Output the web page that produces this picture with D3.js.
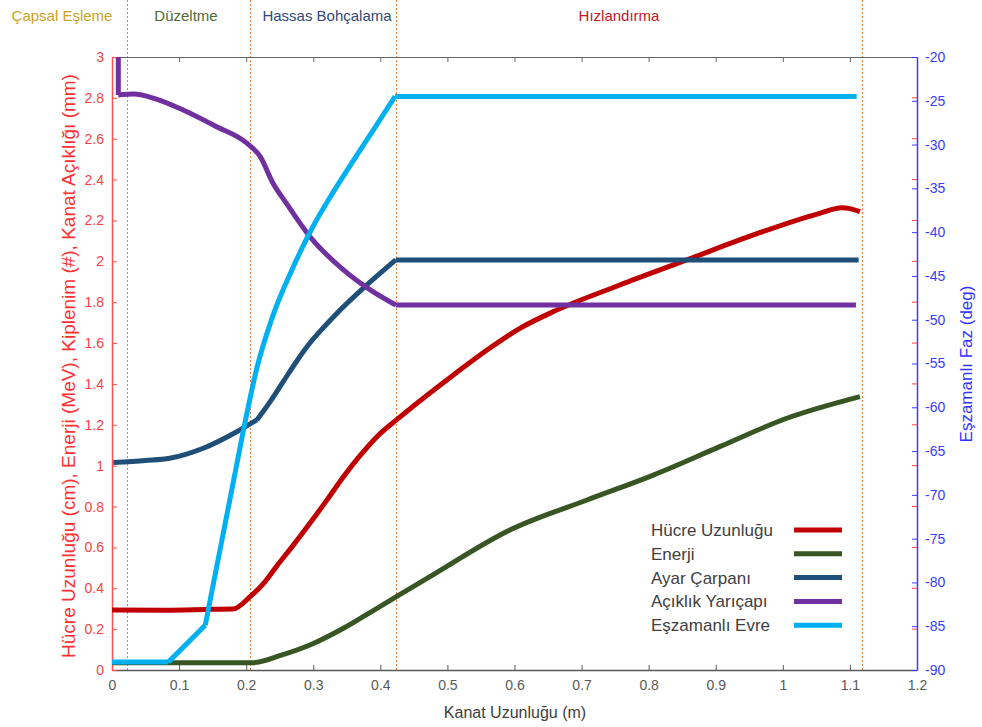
<!DOCTYPE html>
<html>
<head>
<meta charset="utf-8">
<script src="https://cdn.jsdelivr.net/npm/d3@7"></script>
<style>
  body { margin: 0; background: #fff; }
  svg { font-family: "Liberation Sans", Arial, sans-serif; }
</style>
</head>
<body>
<div id="chart"></div>
<script>
// phase boundaries (m) and names
var phaseBounds = [0.022, 0.205, 0.423, 1.118];
var phaseNames = ["Çapsal Eşleme", "Düzeltme", "Hassas Bohçalama", "Hızlandırma"];

// tick labels
var xTicks = [0, 0.1, 0.2, 0.3, 0.4, 0.5, 0.6, 0.7, 0.8, 0.9, 1, 1.1, 1.2];
var leftTicks = [0, 0.2, 0.4, 0.6, 0.8, 1, 1.2, 1.4, 1.6, 1.8, 2, 2.2, 2.4, 2.6, 2.8, 3];
var rightTicks = [-90, -85, -80, -75, -70, -65, -60, -55, -50, -45, -40, -35, -30, -25, -20];

// series: [x (m), value]
var hucre = [[0, 0.294], [0.08, 0.293], [0.15, 0.297], [0.18, 0.298], [0.206, 0.359], [0.226, 0.424],
  [0.245, 0.506], [0.27, 0.61], [0.295, 0.718], [0.32, 0.83], [0.345, 0.946], [0.37, 1.05], [0.395, 1.142], [0.424, 1.224],
  [0.474, 1.356], [0.509, 1.444], [0.559, 1.566], [0.608, 1.672], [0.658, 1.754], [0.757, 1.884], [0.857, 2.007],
  [0.956, 2.129], [1.055, 2.235], [1.088, 2.262], [1.1, 2.258], [1.115, 2.243]];
var enerji = [[0, 0.036], [0.1, 0.036], [0.21, 0.036], [0.25, 0.07], [0.295, 0.122], [0.345, 0.204], [0.395, 0.302],
  [0.424, 0.359], [0.474, 0.457], [0.593, 0.685], [0.708, 0.832], [0.807, 0.954], [0.906, 1.093], [1.006, 1.232], [1.115, 1.338]];
var ayar = [[0.002, 1.015], [0.05, 1.025], [0.086, 1.036], [0.136, 1.085], [0.186, 1.166], [0.216, 1.224],
  [0.235, 1.31], [0.255, 1.41], [0.275, 1.51], [0.295, 1.6], [0.315, 1.675], [0.335, 1.745], [0.375, 1.87],
  [0.423, 2.007], [1.113, 2.007]];
var aciklik = [[0.0094, 3.0], [0.0094, 2.814], [0.032, 2.819], [0.067, 2.793], [0.106, 2.741], [0.156, 2.659],
  [0.201, 2.578], [0.221, 2.512], [0.24, 2.382], [0.26, 2.284], [0.295, 2.121], [0.345, 1.958], [0.385, 1.86],
  [0.423, 1.786], [1.109, 1.786]];
var evre = [[0, -89.1], [0.084, -89.1], [0.139, -84.9], [0.196, -62.6], [0.216, -55.5], [0.24, -49.5],
  [0.27, -44.0], [0.3, -39.3], [0.33, -35.4], [0.36, -31.8], [0.39, -28.3], [0.422, -24.5], [1.11, -24.5]];

var seriesNames = ["Hücre Uzunluğu", "Enerji", "Ayar Çarpanı", "Açıklık Yarıçapı", "Eşzamanlı Evre"];
var seriesColors = ["#c00000", "#375623", "#1f4e79", "#7030a0", "#00b0f0"];

var width = 982, height = 727;
var x = d3.scaleLinear().domain([0, 1.2]).range([112, 917]);
var yL = d3.scaleLinear().domain([0, 3]).range([670, 57]);
var yR = d3.scaleLinear().domain([-90, -20]).range([670, 57]);

var svg = d3.select("#chart").append("svg")
    .attr("width", width)
    .attr("height", height);

svg.append("rect").attr("width", width).attr("height", height).attr("fill", "#fff");

// phase boundaries
svg.selectAll(".phase")
  .data(phaseBounds)
  .enter().append("line")
    .attr("x1", function(d) { return Math.round(x(d)) + 0.5; })
    .attr("x2", function(d) { return Math.round(x(d)) + 0.5; })
    .attr("y1", 0)
    .attr("y2", 670)
    .attr("stroke", "#e8803a")
    .attr("stroke-width", 1)
    .attr("stroke-dasharray", "2,2");

// phase labels
var phaseColors = ["#c9a227", "#4f6b2e", "#2f4a78", "#c8141e"];
var phaseX = [62, 186, 327, 619];
svg.selectAll(".phaseLabel")
  .data(phaseNames)
  .enter().append("text")
    .attr("x", function(d, i) { return phaseX[i]; })
    .attr("y", 21)
    .attr("text-anchor", "middle")
    .attr("font-size", "15px")
    .attr("fill", function(d, i) { return phaseColors[i]; })
    .text(function(d) { return d; });

// top frame
svg.append("g")
    .attr("transform", "translate(0,57)")
    .call(d3.axisTop(x).tickValues(xTicks).tickSizeInner(-5).tickSizeOuter(0).tickFormat(""))
    .call(function(g) {
      g.select(".domain").attr("stroke", "#666");
      g.selectAll(".tick line").attr("stroke", "#666");
    });

// bottom axis
svg.append("g")
    .attr("transform", "translate(0,670)")
    .call(d3.axisBottom(x).tickValues(xTicks).tickSizeInner(-5).tickSizeOuter(0).tickPadding(10)
      .tickFormat(function(d) { return String(+d.toFixed(1)); }))
    .call(function(g) {
      g.select(".domain").attr("stroke", "#595959").attr("stroke-width", 1.5);
      g.selectAll(".tick line").attr("stroke", "#595959");
      g.selectAll("text").attr("fill", "#595959").attr("font-size", "14px")
        .attr("font-family", "Liberation Sans, Arial, sans-serif");
    });

// left axis
svg.append("g")
    .attr("transform", "translate(112,0)")
    .call(d3.axisLeft(yL).tickValues(leftTicks).tickSizeInner(-5).tickSizeOuter(0).tickPadding(8)
      .tickFormat(function(d) { return String(+d.toFixed(1)); }))
    .call(function(g) {
      g.select(".domain").attr("stroke", "#ff5050").attr("stroke-width", 1.5);
      g.selectAll(".tick line").attr("stroke", "#ff5050");
      g.selectAll("text").attr("fill", "#ff4040").attr("font-size", "14px")
        .attr("font-family", "Liberation Sans, Arial, sans-serif");
    });

// right axis
svg.append("g")
    .attr("transform", "translate(917,0)")
    .call(d3.axisRight(yR).tickValues(rightTicks).tickSizeInner(-5).tickSizeOuter(0).tickPadding(8)
      .tickFormat(function(d) { return String(d); }))
    .call(function(g) {
      g.select(".domain").attr("stroke", "#3b3bff").attr("stroke-width", 1.5);
      g.selectAll(".tick line").attr("stroke", "#3b3bff");
      g.selectAll("text").attr("fill", "#3b3bff").attr("font-size", "14px")
        .attr("font-family", "Liberation Sans, Arial, sans-serif");
    });

// mirrored left ticks on the right side
svg.selectAll(".mirror")
  .data(leftTicks.slice(1, -1))
  .enter().append("line")
    .attr("x1", 912).attr("x2", 917)
    .attr("y1", function(d) { return yL(d); })
    .attr("y2", function(d) { return yL(d); })
    .attr("stroke", "#ff4040");

// axis titles
svg.append("text")
    .attr("transform", "translate(75,366) rotate(-90)")
    .attr("text-anchor", "middle")
    .attr("font-size", "19px")
    .attr("fill", "#ff3030")
    .text("Hücre Uzunluğu (cm), Enerji (MeV), Kiplenim (#), Kanat Açıklığı (mm)");

svg.append("text")
    .attr("transform", "translate(972,364) rotate(-90)")
    .attr("text-anchor", "middle")
    .attr("font-size", "17px")
    .attr("fill", "#3333ff")
    .text("Eşzamanlı Faz (deg)");

svg.append("text")
    .attr("x", 515)
    .attr("y", 718)
    .attr("text-anchor", "middle")
    .attr("font-size", "16px")
    .attr("fill", "#404040")
    .text("Kanat Uzunluğu (m)");

// lines: smooth (monotone) pieces, split at the sharp corners
var smoothL = d3.line().curve(d3.curveMonotoneX)
    .x(function(d) { return x(d[0]); })
    .y(function(d) { return yL(d[1]); });
var smoothR = d3.line().curve(d3.curveMonotoneX)
    .x(function(d) { return x(d[0]); })
    .y(function(d) { return yR(d[1]); });
var straightL = d3.line()
    .x(function(d) { return x(d[0]); })
    .y(function(d) { return yL(d[1]); });
var straightR = d3.line()
    .x(function(d) { return x(d[0]); })
    .y(function(d) { return yR(d[1]); });

function pieces(data, corners) {
  var out = [], start = 0;
  corners.concat([data.length - 1]).forEach(function(c) {
    out.push(data.slice(start, c + 1));
    start = c;
  });
  return out;
}

function drawSeries(data, corners, color, smooth, straight) {
  var d = pieces(data, corners).map(function(p) {
    return p.length < 3 ? straight(p) : smooth(p);
  }).join("");
  svg.append("path")
      .attr("fill", "none")
      .attr("stroke", color)
      .attr("stroke-width", 5)
      .attr("stroke-linejoin", "round")
      .attr("d", d);
}

drawSeries(hucre, [], seriesColors[0], smoothL, straightL);
drawSeries(enerji, [], seriesColors[1], smoothL, straightL);
drawSeries(ayar, [5, 13], seriesColors[2], smoothL, straightL);
drawSeries(aciklik, [1, 13], seriesColors[3], smoothL, straightL);
drawSeries(evre, [1, 2, 3, 11], seriesColors[4], smoothR, straightR);

// legend
var legend = svg.append("g").attr("transform", "translate(651,530)");
var rows = legend.selectAll("g")
  .data(seriesNames)
  .enter().append("g")
    .attr("transform", function(d, i) { return "translate(0," + (i * 23.8) + ")"; });
rows.append("text")
    .attr("y", 6)
    .attr("font-size", "17px")
    .attr("fill", "#404040")
    .text(function(d) { return d; });
rows.append("line")
    .attr("x1", 143).attr("x2", 191)
    .attr("y1", 0).attr("y2", 0)
    .attr("stroke", function(d, i) { return seriesColors[i]; })
    .attr("stroke-width", 5);
</script>
</body>
</html>
